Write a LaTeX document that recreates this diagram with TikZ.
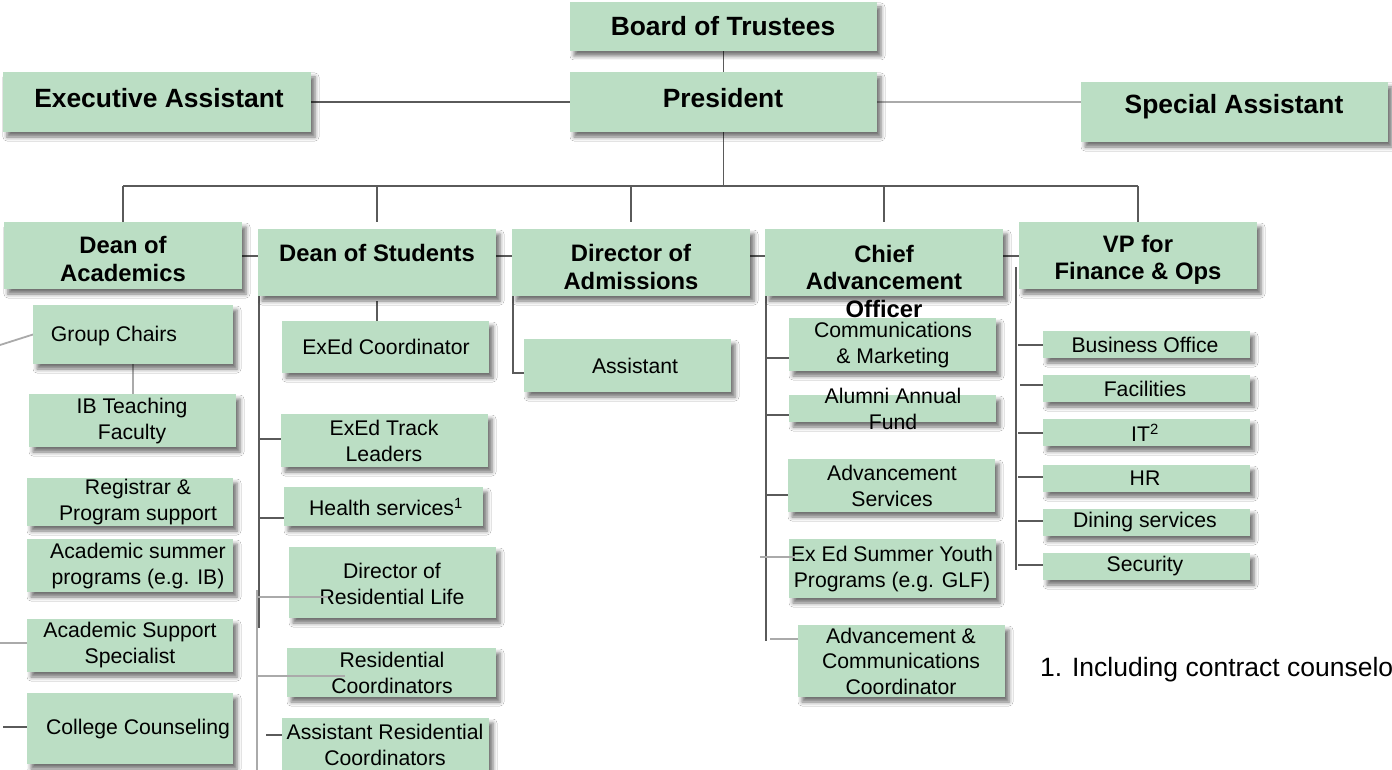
\documentclass[tikz,border=0pt]{standalone}
\usepackage{fontspec}
\setmainfont{Liberation Sans}
\usetikzlibrary{shadows.blur}
\definecolor{boxgreen}{RGB}{187,222,196}
\definecolor{dkline}{RGB}{90,90,90}
\definecolor{ltline}{RGB}{170,170,170}
\tikzset{
 orgfill/.style={fill=boxgreen,
   blur shadow={shadow xshift=4pt, shadow yshift=-5pt, shadow blur radius=4pt, shadow opacity=55}},
 geom/.style={rectangle, draw=none, fill=none, inner sep=0pt, outer sep=0pt, anchor=north west},
 topt/.style={font=\fontsize{26.4}{30}\selectfont\bfseries, align=center, inner sep=0pt},
 lvt/.style={font=\fontsize{23.8}{27.5}\selectfont\bfseries, align=center, inner sep=0pt},
 smt/.style={font=\fontsize{21.2}{25.5}\selectfont, align=center, inner sep=0pt},
 fnt/.style={font=\fontsize{26.5}{30}\selectfont, inner sep=0pt, anchor=west},
 dk/.style={draw=dkline, line width=1.8pt},
 lt/.style={draw=ltline, line width=1.8pt},
}
% pass 1: named geometry nodes; pass 2: filled boxes with shadow; pass 3: texts
\newcommand{\defbox}[9]{\node[geom, minimum width={(#4-#2)*1pt}, minimum height={(#5-#3)*1pt}] (#1) at (#2,#3) {};}
\newcommand{\fillbox}[9]{\path[orgfill] (#1.north west) rectangle (#1.south east);}
\newcommand{\textbox}[9]{\node[#6] (#1-t) at (#7,#8) {#9};}
\newcommand{\boxlist}{%
\B{bot}{570}{2}{877}{51}{topt}{723}{26}{Board of Trustees}
\B{pres}{570}{72}{877}{132}{topt}{723}{98}{President}
\B{exa}{3}{72}{311}{132}{topt}{159}{98}{Executive Assistant}
\B{spa}{1081}{82}{1388}{142}{topt}{1234}{107}{Special Assistant}
\B{doa}{4}{222}{242}{289}{lvt}{123}{259}{Dean of\\Academics}
\B{dos}{258}{229}{496}{296}{lvt}{377}{253}{Dean of Students}
\B{dad}{512}{229}{750}{296}{lvt}{631}{267}{Director of\\Admissions}
\B{cao}{765}{229}{1003}{296}{lvt}{884}{281}{Chief\\Advancement\\Officer}
\B{vp}{1019}{222}{1257}{289}{lvt}{1138}{260}{VP for\\Finance \& Ops}
\B{gc}{33}{305}{233}{364}{smt}{114}{336}{Group Chairs}
\B{ib}{29}{394}{236}{447}{smt}{132}{421}{IB Teaching\\Faculty}
\B{reg}{27}{478}{233}{526}{smt}{138}{502}{Registrar \&\\Program support}
\B{asp}{27}{539}{233}{592}{smt}{138}{566}{Academic summer\\programs (e.g. IB)}
\B{ass}{27}{619}{233}{672}{smt}{130}{645}{Academic Support\\Specialist}
\B{cc}{27}{693}{233}{764}{smt}{138}{729}{College Counseling}
\B{exc}{282}{321}{489}{373}{smt}{386}{347}{ExEd Coordinator}
\B{etl}{281}{414}{488}{467}{smt}{384}{441}{ExEd Track\\Leaders}
\B{hs}{284}{487}{483}{526}{smt}{386}{507}{Health services\textsuperscript{1}}
\B{drl}{289}{547}{496}{618}{smt}{392}{584}{Director of\\Residential Life}
\B{rc}{287}{648}{496}{697}{smt}{392}{673}{Residential\\Coordinators}
\B{arc}{282}{718}{489}{776}{smt}{385}{745}{Assistant Residential\\Coordinators}
\B{as}{524}{339}{731}{392}{smt}{635}{366}{Assistant}
\B{cm}{789}{318}{996}{371}{smt}{893}{345}{Communications\\\& Marketing}
\B{aaf}{789}{395}{996}{422}{smt}{893}{409}{Alumni Annual\\Fund}
\B{avs}{788}{459}{995}{512}{smt}{892}{486}{Advancement\\Services}
\B{ess}{789}{539}{996}{598}{smt}{892}{569}{Ex Ed Summer Youth\\Programs (e.g. GLF)}
\B{acc}{798}{625}{1005}{697}{smt}{901}{661}{Advancement \&\\Communications\\Coordinator}
\B{bo}{1043}{331}{1250}{358}{smt}{1145}{345}{Business Office}
\B{fac}{1043}{375}{1250}{402}{smt}{1145}{389}{Facilities}
\B{it}{1043}{419}{1250}{446}{smt}{1145}{433}{IT\textsuperscript{2}}
\B{hr}{1043}{465}{1250}{492}{smt}{1145}{478}{HR}
\B{din}{1043}{509}{1250}{536}{smt}{1145}{522}{Dining services}
\B{sec}{1043}{553}{1250}{580}{smt}{1145}{566}{Security}
}
\begin{document}
\begin{tikzpicture}[x=1pt,y=-1pt]
\useasboundingbox[fill=white] (0,0) rectangle (1392,770);
\let\B\defbox \boxlist
% coordinates
\coordinate (busL) at (123,186); \coordinate (busR) at (1138,186);
\coordinate (l2) at (0,256);
\coordinate (gcL) at (0,345); \coordinate (assL) at (0,643); \coordinate (ccL) at (3,727);
\coordinate (dosA) at (259,296); \coordinate (dosB) at (259,628);
\coordinate (dosC) at (257,590); \coordinate (dosD) at (257,772);
\coordinate (kEtl) at (259,439); \coordinate (kHs) at (259,518);
\coordinate (kDrl) at (257,597); \coordinate (kDrlE) at (328,597);
\coordinate (kRc) at (257,676); \coordinate (kRcE) at (345,676);
\coordinate (kArc) at (266,735);
\coordinate (dadA) at (513,296); \coordinate (dadB) at (513,373);
\coordinate (caoA) at (766,296); \coordinate (caoB) at (766,641);
\coordinate (kCm) at (766,358); \coordinate (kAaf) at (766,415); \coordinate (kAvs) at (766,495);
\coordinate (kEss) at (760,557); \coordinate (kEssE) at (795,557);
\coordinate (kAcc) at (770,639);
\coordinate (vpA) at (1016,267); \coordinate (vpB) at (1016,570);
\coordinate (kBo) at (1018,345); \coordinate (kFac) at (1020,385); \coordinate (kIt) at (1018,433);
\coordinate (kHr) at (1018,477); \coordinate (kDin) at (1018,521); \coordinate (kSec) at (1018,565);
% connectors behind boxes
\draw[dk] (bot) -- (pres);
\draw[dk] (exa) -- (pres);
\draw[lt] (pres.east) -- (pres.east -| spa.west);
\draw[dk] (pres.south) -- (pres.south |- busL);
\draw[dk] (busL) -- (busR);
\draw[dk] (busL) -- (doa.north);
\draw[dk] (dos.north |- busL) -- ++(0,36);
\draw[dk] (dad.north |- busL) -- ++(0,36);
\draw[dk] (cao.north |- busL) -- ++(0,36);
\draw[dk] (busR) -- (vp.north);
\draw[dk] (doa.east |- l2) -- (dos.west |- l2);
\draw[dk] (dos.east |- l2) -- (dad.west |- l2);
\draw[dk] (dad.east |- l2) -- (cao.west |- l2);
\draw[dk] (cao.east |- l2) -- (vp.west |- l2);
\draw[lt] (gcL) -- (gc.west);
\draw[lt] (gc.south) -- (gc.south |- ib.north);
\draw[lt] (assL) -- (assL -| ass.west);
\draw[dk] (ccL) -- (ccL -| cc.west);
\draw[dk] (dosA) -- (dosB);
\draw[lt] (dosC) -- (dosD);
\draw[dk] ([yshift=-5pt]dos.south) -- ([yshift=-5pt]dos.south |- exc.north);
\draw[dk] (kEtl) -- (kEtl -| etl.west);
\draw[dk] (kHs) -- (kHs -| hs.west);
\draw[dk] (kArc) -- (kArc -| arc.west);
\draw[dk] (dadA) -- (dadB) -- (dadB -| as.west);
\draw[dk] (caoA) -- (caoB);
\draw[dk] (kCm) -- (kCm -| cm.west);
\draw[dk] (kAaf) -- (kAaf -| aaf.west);
\draw[dk] (kAvs) -- (kAvs -| avs.west);
\draw[lt] (kAcc) -- (kAcc -| acc.west);
\draw[dk] (vpA) -- (vpB);
\draw[dk] (kBo) -- (kBo -| bo.west);
\draw[dk] (kFac) -- (kFac -| fac.west);
\draw[dk] (kIt) -- (kIt -| it.west);
\draw[dk] (kHr) -- (kHr -| hr.west);
\draw[dk] (kDin) -- (kDin -| din.west);
\draw[dk] (kSec) -- (kSec -| sec.west);
% boxes, then texts
\let\B\fillbox \boxlist
\let\B\textbox \boxlist
\node[fnt] (fn) at (1040,670) {1. Including contract counselo};
% connectors drawn over boxes
\draw[lt] (kDrl) -- (kDrlE);
\draw[lt] (kRc) -- (kRcE);
\draw[lt] (kEss) -- (kEssE);
\end{tikzpicture}
\end{document}
